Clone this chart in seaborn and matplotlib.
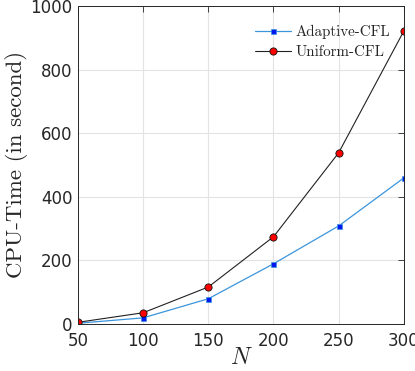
import numpy as np
import pandas as pd
import matplotlib
matplotlib.use("Agg")
import matplotlib.pyplot as plt
import seaborn as sns

sns.set_theme(style='white', context='notebook')
plt.rcParams['mathtext.fontset'] = 'cm'
plt.rcParams['font.family'] = ['DejaVu Sans']

# data
N = [50, 100, 150, 200, 250, 300]
adaptive = [2, 19, 79, 189, 308, 459]
uniform = [5, 35, 116, 274, 538, 921]

df = pd.DataFrame({'N': N, 'Adaptive-CFL': adaptive, 'Uniform-CFL': uniform})

fig = plt.figure(figsize=(4.15, 3.71), dpi=100)
ax = fig.add_axes([0.188, 0.127, 0.785, 0.857])

sns.lineplot(ax=ax, data=df, x='N', y='Adaptive-CFL', color='#3b95dc', lw=0.9,
             marker='s', markersize=3.6, markerfacecolor='#0018f0', markeredgecolor='#3b95dc',
             markeredgewidth=0.5, label='Adaptive-CFL')
sns.lineplot(ax=ax, data=df, x='N', y='Uniform-CFL', color='#222222', lw=0.8,
             marker='o', markersize=5.2, markerfacecolor='#ff0000', markeredgecolor='#111111',
             markeredgewidth=0.6, label='Uniform-CFL')

ax.set_xlim(50, 300)
ax.set_ylim(0, 1000)
ax.set_xticks(N)
ax.set_yticks([0, 200, 400, 600, 800, 1000])
ax.grid(True, color='#e3e3e3', lw=0.8)
ax.tick_params(direction='in', length=4, width=0.6, labelsize=12, colors='#262626',
               top=True, right=True, labeltop=False, labelright=False)
ax.tick_params(axis='x', pad=6)
ax.tick_params(axis='y', pad=4)
for s in ax.spines.values():
    s.set_color('#262626')
    s.set_linewidth(0.7)

ax.set_xlabel('$N$', fontsize=17, labelpad=-4)
ax.set_ylabel('CPU-Time (in second)', family='cmr10', fontsize=16.5, labelpad=2)

leg = ax.legend(loc='upper right', bbox_to_anchor=(1.015, 1.0), frameon=False,
                prop={'family': 'cmr10', 'size': 10.8},
                handlelength=2.4, handletextpad=0.3, labelspacing=0.45, borderaxespad=0.85)

fig.savefig('out.png', dpi=100)
